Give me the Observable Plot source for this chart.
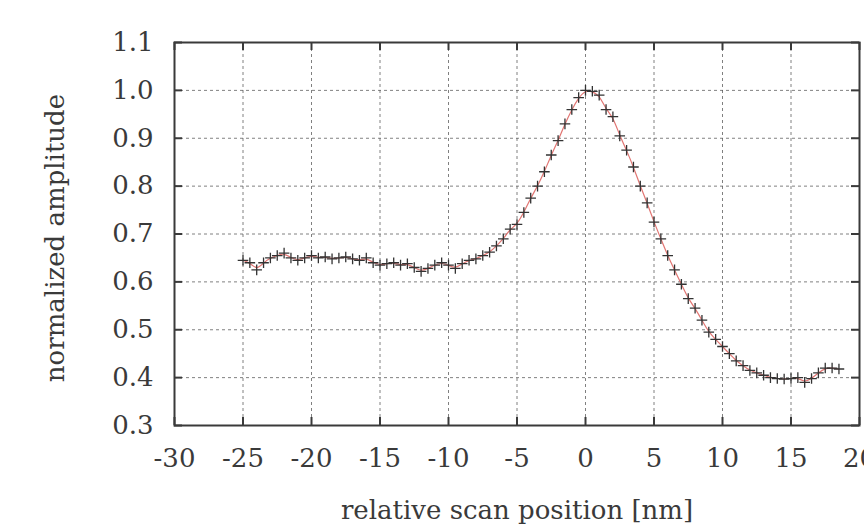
<!DOCTYPE html>
<html>
<head>
<meta charset="utf-8">
<script src="https://cdn.jsdelivr.net/npm/d3@7"></script>
<script src="https://cdn.jsdelivr.net/npm/@observablehq/plot@0.6"></script>
<style>
  html, body { margin: 0; padding: 0; background: #fff; }
  #chart svg { display: block; }
</style>
</head>
<body>
<div id="chart"></div>
<script>
// scan positions [nm]
const positions = [
  -25, -24.5, -24, -23.5, -23, -22.5, -22, -21.5, -21, -20.5,
  -20, -19.5, -19, -18.5, -18, -17.5, -17, -16.5, -16, -15.5,
  -15, -14.5, -14, -13.5, -13, -12.5, -12, -11.5, -11, -10.5,
  -10, -9.5, -9, -8.5, -8, -7.5, -7, -6.5, -6, -5.5,
  -5, -4.5, -4, -3.5, -3, -2.5, -2, -1.5, -1, -0.5,
  0, 0.5, 1, 1.5, 2, 2.5, 3, 3.5, 4, 4.5,
  5, 5.5, 6, 6.5, 7, 7.5, 8, 8.5, 9, 9.5,
  10, 10.5, 11, 11.5, 12, 12.5, 13, 13.5, 14, 14.5,
  15, 15.5, 16, 16.5, 17, 17.5, 18, 18.5
];
// normalized amplitude (measured)
const amplitudes = [
  0.645, 0.640, 0.625, 0.640, 0.650, 0.655, 0.660, 0.650, 0.645, 0.650,
  0.655, 0.650, 0.652, 0.648, 0.650, 0.652, 0.648, 0.645, 0.650, 0.640,
  0.635, 0.638, 0.640, 0.635, 0.638, 0.630, 0.622, 0.628, 0.635, 0.640,
  0.635, 0.628, 0.638, 0.645, 0.648, 0.655, 0.662, 0.675, 0.690, 0.710,
  0.720, 0.745, 0.775, 0.800, 0.830, 0.865, 0.895, 0.930, 0.960, 0.985,
  1.000, 0.998, 0.990, 0.960, 0.945, 0.905, 0.875, 0.840, 0.800, 0.765,
  0.725, 0.690, 0.655, 0.625, 0.595, 0.565, 0.545, 0.520, 0.495, 0.480,
  0.465, 0.450, 0.435, 0.425, 0.415, 0.410, 0.405, 0.400, 0.398, 0.397,
  0.398, 0.400, 0.390, 0.398, 0.410, 0.420, 0.420, 0.418
];
const xTicks = [-30, -25, -20, -15, -10, -5, 0, 5, 10, 15, 20];
const yTicks = [0.3, 0.4, 0.5, 0.6, 0.7, 0.8, 0.9, 1.0, 1.1];
const xLabel = "relative scan position [nm]";
const yLabel = "normalized amplitude";

const data = positions.map((x, i) => ({x, y: amplitudes[i]}));

const W = 864, H = 531;
const mL = 174, mR = 5, mT = 42, mB = 106;
const innerH = H - mT - mB;
const innerW = W - mL - mR;
const font = "'DejaVu Serif', 'Liberation Serif', serif";
const ink = "#3a3a3a";
const tickLen = 8;
const fs = 26;

const chart = Plot.plot({
  width: W,
  height: H,
  marginLeft: mL,
  marginRight: mR,
  marginTop: mT,
  marginBottom: mB,
  style: {fontFamily: font, fontSize: fs + "px", color: ink, background: "#fff"},
  x: {domain: [-30, 20]},
  y: {domain: [0.3, 1.1]},
  marks: [
    Plot.gridX(xTicks, {stroke: "#555", strokeOpacity: 0.75, strokeDasharray: "3,3", strokeWidth: 1}),
    Plot.gridY(yTicks, {stroke: "#555", strokeOpacity: 0.75, strokeDasharray: "3,3", strokeWidth: 1}),
    // inward ticks, bottom & top
    Plot.tickX(xTicks, {x: d => d, insetTop: innerH - tickLen, stroke: ink, strokeWidth: 2}),
    Plot.tickX(xTicks, {x: d => d, insetBottom: innerH - tickLen, stroke: ink, strokeWidth: 2}),
    // inward ticks, left & right
    Plot.tickY(yTicks, {y: d => d, insetRight: innerW - tickLen, stroke: ink, strokeWidth: 2}),
    Plot.tickY(yTicks, {y: d => d, insetLeft: innerW - tickLen, stroke: ink, strokeWidth: 2}),
    Plot.axisX({ticks: xTicks, tickSize: 0, tickPadding: 23, label: null, tickFormat: d => String(d), fill: ink, fontSize: fs}),
    Plot.axisY({ticks: yTicks, tickSize: 0, tickPadding: 21, label: null, tickFormat: d => d.toFixed(1), fill: ink, fontSize: fs}),
    Plot.line(data, {x: "x", y: "y", stroke: "#d9534f", strokeWidth: 1.2, strokeOpacity: 0.8, curve: "basis"}),
    Plot.dot(data, {x: "x", y: "y", symbol: "plus", r: 3.5, stroke: "#333", strokeWidth: 1.3}),
    Plot.frame({stroke: ink, strokeWidth: 2}),
    Plot.text([yLabel], {text: d => d, frameAnchor: "left", dx: -119, dy: 4, rotate: -90,
      textAnchor: "middle", lineAnchor: "middle", fill: ink, fontSize: fs}),
    Plot.text([xLabel], {text: d => d, frameAnchor: "bottom", dy: 85,
      textAnchor: "middle", lineAnchor: "middle", fill: ink, fontSize: fs})
  ]
});
document.getElementById("chart").appendChild(chart);
</script>
</body>
</html>
